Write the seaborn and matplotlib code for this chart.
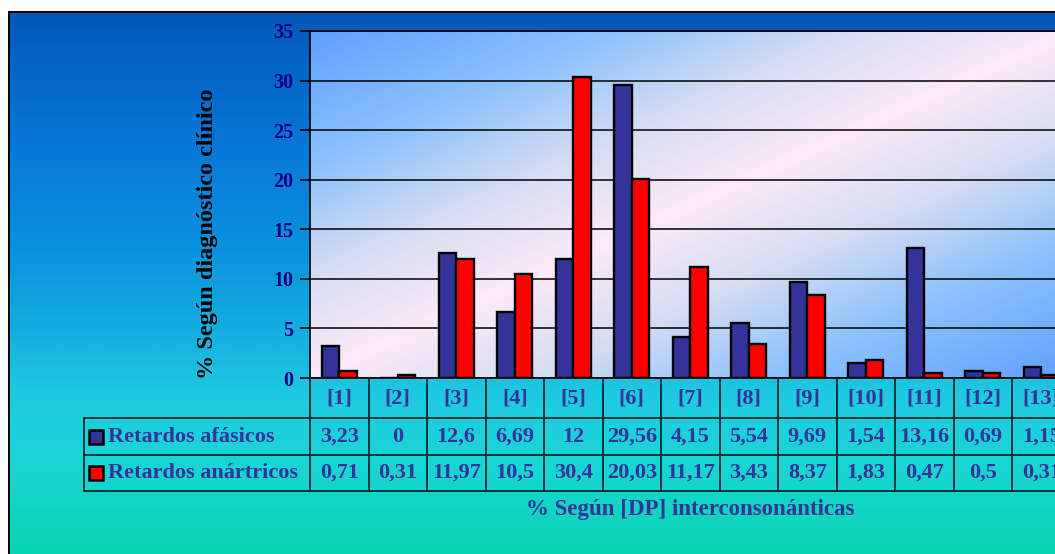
import numpy as np
import pandas as pd
import matplotlib
matplotlib.use("Agg")
import matplotlib.pyplot as plt
from matplotlib.colors import LinearSegmentedColormap, to_rgb
import seaborn as sns

# Data: percentages by interconsonantal [DP] group
categorias = ["[1]", "[2]", "[3]", "[4]", "[5]", "[6]", "[7]", "[8]", "[9]", "[10]", "[11]", "[12]", "[13]"]
series = ["Retardos afásicos", "Retardos anártricos"]
afasicos = [3.23, 0, 12.6, 6.69, 12, 29.56, 4.15, 5.54, 9.69, 1.54, 13.16, 0.69, 1.15]
anartricos = [0.71, 0.31, 11.97, 10.5, 30.4, 20.03, 11.17, 3.43, 8.37, 1.83, 0.47, 0.5, 0.31]
y_ticks = [0, 5, 10, 15, 20, 25, 30, 35]

colores = ["#333399", "#FF0000"]
texto_tabla = "#333399"
serif = ["Liberation Serif", "DejaVu Serif"]

df = pd.DataFrame({
    "grupo": categorias * 2,
    "valor": afasicos + anartricos,
    "serie": [series[0]] * len(categorias) + [series[1]] * len(categorias),
})

sns.set_theme(style="white")
plt.rcParams["font.family"] = serif
plt.rcParams["font.weight"] = "bold"

W, H = 1055, 554
fig = plt.figure(figsize=(W / 100, H / 100), dpi=100)
fig.patch.set_facecolor("white")


def fx(px):
    return px / W


def fy(py):
    return 1 - py / H


# Slide-style background with vertical blue -> turquoise gradient
bg = fig.add_axes([fx(9), 0, 1 - fx(9), fy(12)], zorder=0)
stops = [(0.00, "#0058B8"), (0.25, "#0878D8"), (0.42, "#0890DC"), (0.58, "#14ACE0"),
         (0.72, "#20CCE0"), (0.84, "#18D6D4"), (1.00, "#08D4B4")]
cmap_bg = LinearSegmentedColormap.from_list("fondo", stops)
grad = np.linspace(0, 1, 400).reshape(-1, 1)
bg.imshow(grad, aspect="auto", cmap=cmap_bg, extent=(0, 1, 0, 1), origin="upper")
bg.set_xlim(0, 1)
bg.set_ylim(0, 1)
bg.set_xticks([])
bg.set_yticks([])
for side in ["bottom", "right"]:
    bg.spines[side].set_visible(False)
for side in ["top", "left"]:
    bg.spines[side].set_color("black")
    bg.spines[side].set_linewidth(1.4)

# Plot area (group width 58.5 px; the last column runs past the figure edge)
col = 58.5
x0_px = 310
ax = fig.add_axes([fx(x0_px), fy(378), fx(x0_px + col * len(categorias)) - fx(x0_px),
                   fy(31) - fy(378)], zorder=2)

# Diagonal gradient: pink along the rising diagonal, blue toward the corners
nx, ny = 300, 150
u = np.linspace(0, 1, nx)[None, :]
v = np.linspace(1, 0, ny)[:, None]
d = np.clip(np.abs(u - v), 0, 1)
cmap_area = LinearSegmentedColormap.from_list(
    "area", [(0.0, "#FCEAF8"), (0.3, "#D4DCF2"), (0.6, "#8CC2FC"), (1.0, "#60A0FF")])
img = cmap_area(d)

sns.barplot(data=df, x="grupo", y="valor", hue="serie", palette=colores,
            width=0.6, edgecolor="black", linewidth=1.7, saturation=1,
            legend=False, ax=ax, zorder=3)

ax.imshow(img, aspect="auto", extent=(-0.5, len(categorias) - 0.5, 0, 35),
          origin="upper", zorder=0)
ax.set_xlim(-0.5, len(categorias) - 0.5)
ax.set_ylim(0, 35)

ax.set_axisbelow(True)
ax.yaxis.grid(True, color="black", linewidth=1.1)
ax.xaxis.grid(False)
for side in ["left", "top", "bottom"]:
    ax.spines[side].set_color("black")
    ax.spines[side].set_linewidth(1.2)
ax.spines["right"].set_visible(False)

ax.set_yticks(y_ticks)
ax.set_yticklabels([str(t) for t in y_ticks], color="#000080",
                   fontsize=14.5, fontweight="bold", family=serif)
ax.tick_params(axis="y", direction="out", length=7, width=1.2, color="black", pad=5, left=True)
ax.set_xticks(range(len(categorias)))
ax.set_xticklabels([])
ax.tick_params(axis="x", length=0)
ax.set_xlabel("")
ax.set_ylabel("")

# Data table below the plot area
trans = ax.get_xaxis_transform()
alto = 347.0
r0, r1, r2, r3 = 0, -40 / alto, -77 / alto, -113 / alto
x_izq = (84 - x0_px) / col - 0.5
x_der = len(categorias) - 0.5
linea = dict(color="#0A2A30", linewidth=1.3, transform=trans, clip_on=False, zorder=5)

for i in range(len(categorias) + 1):
    ax.plot([i - 0.5, i - 0.5], [r0, r3], **linea)
ax.plot([x_izq, x_izq], [r1, r3], **linea)
for r in (r1, r2, r3):
    ax.plot([x_izq, x_der + 1], [r, r], **linea)


def fmt(v):
    return f"{v:g}".replace(".", ",")


txt = dict(transform=trans, ha="center", va="center", color=texto_tabla,
           fontsize=16, fontweight="bold", family=serif, clip_on=False, zorder=6)
for i, cat in enumerate(categorias):
    ax.text(i, (r0 + r1) / 2, cat, **txt)
    ax.text(i, (r1 + r2) / 2, fmt(afasicos[i]), **txt)
    ax.text(i, (r2 + r3) / 2, fmt(anartricos[i]), **txt)

x_marca = (96 - x0_px) / col - 0.5
x_rotulo = (108 - x0_px) / col - 0.5
for nombre, color, (ra, rb) in zip(series, colores, [(r1, r2), (r2, r3)]):
    ym = (ra + rb) / 2
    ax.plot([x_marca], [ym], marker="s", markersize=10.5, markerfacecolor=color,
            markeredgecolor="black", markeredgewidth=1.8, transform=trans,
            clip_on=False, zorder=6)
    ax.text(x_rotulo, ym, nombre, transform=trans, ha="left", va="center",
            color=texto_tabla, fontsize=16, fontweight="bold", family=serif,
            clip_on=False, zorder=6)

# Axis titles
fig.text(fx(207), fy(234), "% Según diagnóstico clínico", rotation=90,
         ha="center", va="center", color="black", fontsize=17.5, fontweight="bold",
         family=serif)
fig.text(fx(690), fy(510), "% Según [DP] interconsonánticas", ha="center",
         va="center", color=texto_tabla, fontsize=16.5, fontweight="bold", family=serif)

fig.savefig("out.png", dpi=100, facecolor=fig.get_facecolor())
